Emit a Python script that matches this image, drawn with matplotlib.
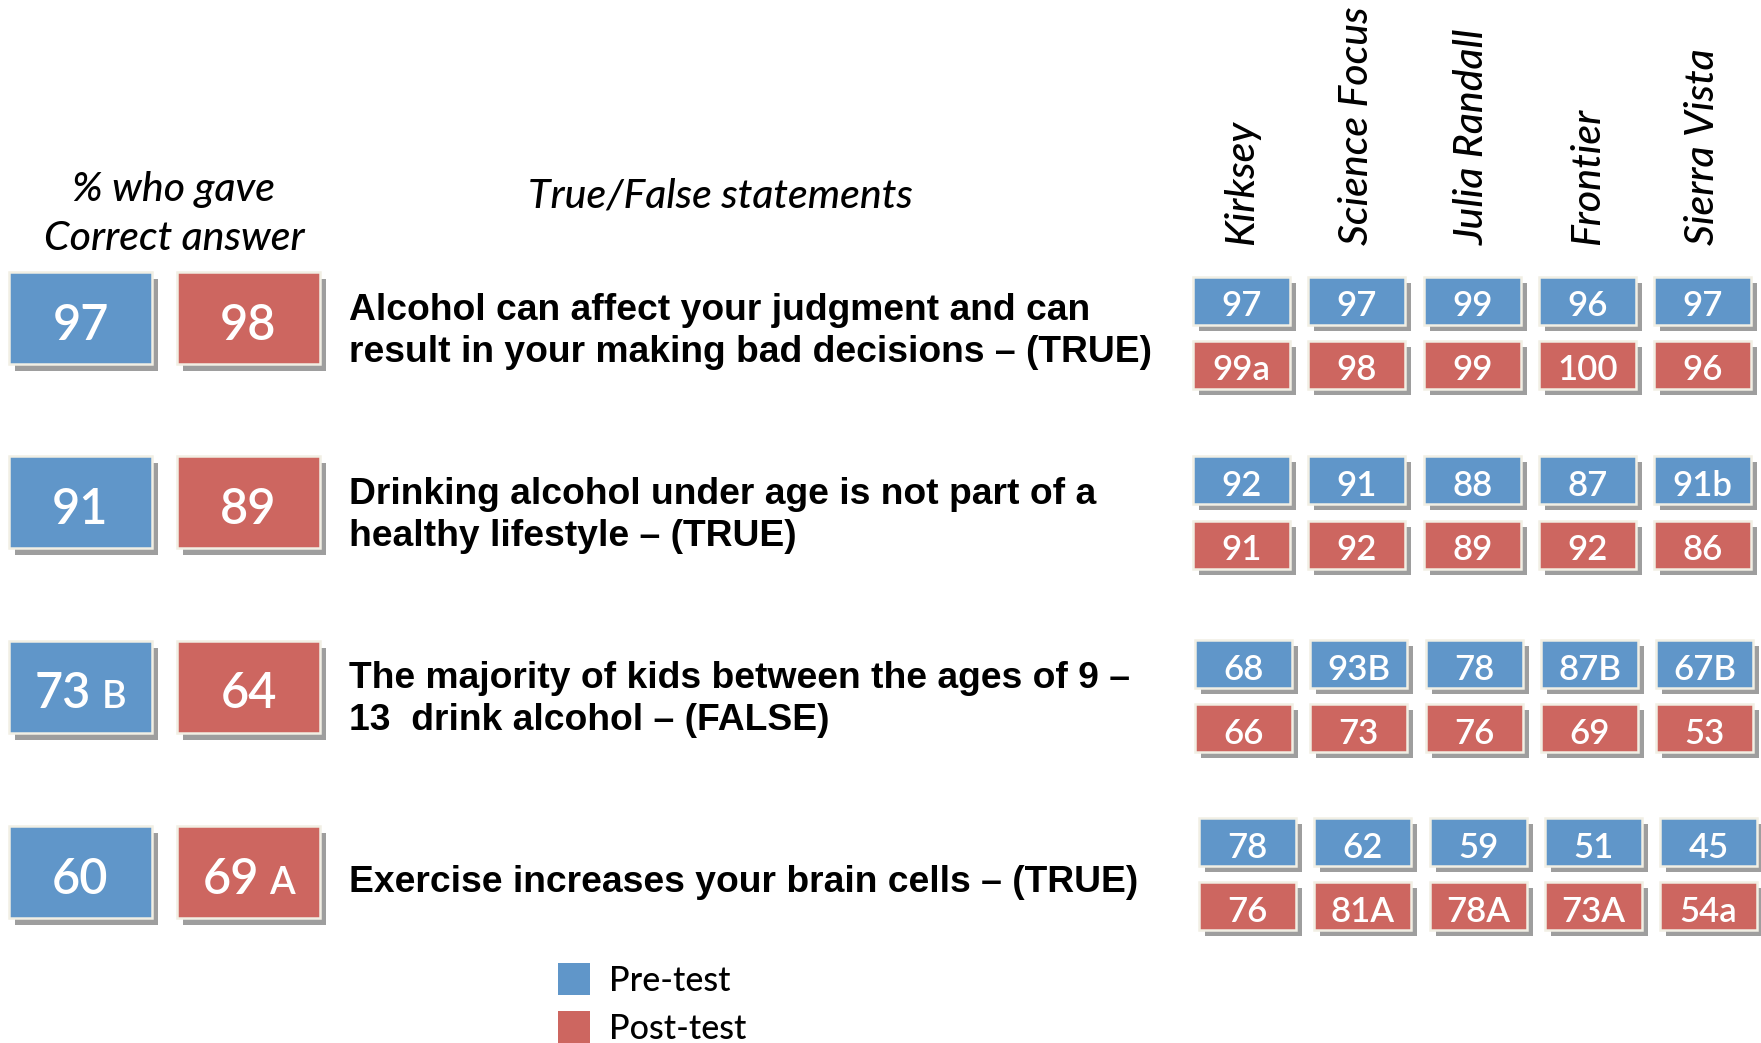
import matplotlib
matplotlib.use("Agg")
import matplotlib.pyplot as plt
from matplotlib.patches import Rectangle

# Data #

statements = [
    ["Alcohol can affect your judgment and can",
     "result in your making bad decisions \u2013 (TRUE)"],
    ["Drinking alcohol under age is not part of a",
     "healthy lifestyle \u2013 (TRUE)"],
    ["The majority of kids between the ages of 9 \u2013",
     "13  drink alcohol \u2013 (FALSE)"],
    ["Exercise increases your brain cells \u2013 (TRUE)"],
]

overall_pre = ["97", "91", "73", "60"]
overall_pre_note = ["", "", "B", ""]
overall_post = ["98", "89", "64", "69"]
overall_post_note = ["", "", "", "A"]

schools = ["Kirksey", "Science Focus", "Julia Randall", "Frontier", "Sierra Vista"]

school_pre = [
    ["97", "97", "99", "96", "97"],
    ["92", "91", "88", "87", "91b"],
    ["68", "93B", "78", "87B", "67B"],
    ["78", "62", "59", "51", "45"],
]
school_post = [
    ["99a", "98", "99", "100", "96"],
    ["91", "92", "89", "92", "86"],
    ["66", "73", "76", "69", "53"],
    ["76", "81A", "78A", "73A", "54a"],
]

legend_labels = ["Pre-test", "Post-test"]

# Styles #

BLUE = "#6096C9"
RED = "#CD6660"
SHADOW = "#9E9E9E"
EDGE = "#F1EFE4"
NUM_FONT = "Lato"
NUM_WEIGHT = "semibold"
TXT_FONT = "Liberation Sans"

W, H = 1761, 1043
fig = plt.figure(figsize=(W / 100, H / 100), dpi=100)
ax = fig.add_axes([0, 0, 1, 1])
ax.set_xlim(0, W)
ax.set_ylim(H, 0)
ax.axis("off")


def tile(x, y, w, h, color, off=(6, 7)):
    ax.add_patch(Rectangle((x + off[0], y + off[1]), w, h, facecolor=SHADOW,
                           edgecolor="none", zorder=1))
    ax.add_patch(Rectangle((x, y), w, h, facecolor=color, edgecolor=EDGE,
                           linewidth=1.8, zorder=2))


def px(pt):
    return pt * 100 / 72.0


# Headers
head = dict(family=NUM_FONT, style="italic", weight="medium", fontsize=29.5)
ax.text(174, 190, "% who gave", ha="center", va="center", **head)
ax.text(174, 239, "Correct answer", ha="center", va="center", **head)
ax.text(720, 196, "True/False statements", ha="center", va="center", **head)

col_x = [1193, 1308, 1424, 1539, 1654]
col_w, col_h = 97, 48
for i, name in enumerate(schools):
    ax.text(col_x[i] + col_w / 2, 245, name, rotation=90, ha="center",
            va="bottom", **head)

# Big tiles
big_top = [272, 456, 641, 826]
big_h = 92
big_x = [(9, 143), (177, 143)]
big_size = 35
note_size = 27
pending = []
for r in range(4):
    for (bx, bw), color, vals, notes in zip(big_x, (BLUE, RED),
                                            (overall_pre, overall_post),
                                            (overall_pre_note, overall_post_note)):
        tile(bx, big_top[r], bw, big_h, color)
        cx = bx + bw / 2
        base = big_top[r] + big_h / 2 + 0.72 * px(big_size) / 2 + 4
        t = ax.text(cx, base, vals[r], family=NUM_FONT, weight=NUM_WEIGHT,
                    fontsize=big_size, color="white", ha="center",
                    va="baseline", zorder=3)
        if notes[r]:
            n = ax.text(cx, base, notes[r], family=NUM_FONT, weight=NUM_WEIGHT,
                        fontsize=note_size, color="white", ha="left",
                        va="baseline", zorder=3)
            pending.append((t, n, cx))

fig.canvas.draw()
ren = fig.canvas.get_renderer()
gap = 10
for t, n, cx in pending:
    wt = t.get_window_extent(ren).width
    wn = n.get_window_extent(ren).width
    total = wt + gap + wn
    left = cx - total / 2
    t.set_ha("left")
    t.set_x(left)
    n.set_x(left + wt + gap)

# Statements
row_mid = [332, 516, 699, 883]
for r, lines in enumerate(statements):
    k = len(lines)
    for j, line in enumerate(lines):
        y = row_mid[r] + (j - (k - 1) / 2) * 42
        ax.text(349, y, line, family=TXT_FONT, weight="bold", fontsize=26.8,
                ha="left", va="center")

# School tiles
pre_top = [277, 456, 640, 818]
post_top = [341, 521, 704, 882]
row_shift = [0, 0, 2, 6]
small_size = 25
for r in range(4):
    for c in range(len(schools)):
        x = col_x[c] + row_shift[r]
        for top, color, vals in ((pre_top[r], BLUE, school_pre),
                                 (post_top[r], RED, school_post)):
            tile(x, top, col_w, col_h, color, off=(6, 6))
            ax.text(x + col_w / 2, top + col_h / 2 + 0.72 * px(small_size) / 2 + 3,
                    vals[r][c], family=NUM_FONT, weight=NUM_WEIGHT,
                    fontsize=small_size, color="white", ha="center",
                    va="baseline", zorder=3)

# Legend
for k, (label, color) in enumerate(zip(legend_labels, (BLUE, RED))):
    y0 = 963 + k * 48
    ax.add_patch(Rectangle((558, y0), 32, 32, facecolor=color, edgecolor="none"))
    ax.text(609, y0 + 18, label, family=NUM_FONT, weight="medium",
            fontsize=24.5, ha="left", va="center")

fig.savefig("out.png", dpi=100)
